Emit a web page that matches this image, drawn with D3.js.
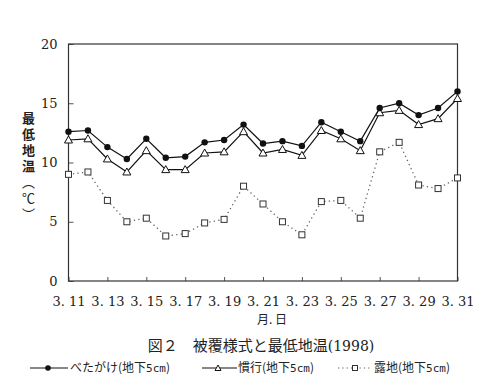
<!DOCTYPE html>
<html>
<head>
<meta charset="utf-8">
<script src="https://cdn.jsdelivr.net/npm/d3@7"></script>
<style>
  body { margin: 0; background: white; }
  .axis text { font-family: "DejaVu Serif", serif; font-size: 13px; fill: #222; }
  .axis line { stroke: #555; }
  .jp { font-family: "Noto Sans CJK JP", sans-serif; fill: #222; }
</style>
</head>
<body>
<div id="chart"></div>
<script>
// days of March, 1998
const days = [11,12,13,14,15,16,17,18,19,20,21,22,23,24,25,26,27,28,29,30,31];
const betagake = [12.6,12.7,11.3,10.3,12.0,10.4,10.5,11.7,11.9,13.2,11.6,11.8,11.4,13.4,12.6,11.8,14.6,15.0,14.0,14.6,16.0];
const kanko    = [11.9,12.0,10.3,9.2,11.0,9.4,9.4,10.8,10.9,12.6,10.8,11.1,10.6,12.7,12.0,11.0,14.2,14.4,13.2,13.7,15.4];
const roji     = [9.0,9.2,6.8,5.0,5.3,3.8,4.0,4.9,5.2,8.0,6.5,5.0,3.9,6.7,6.8,5.3,10.9,11.7,8.1,7.8,8.7];
const xTicks = [11,13,15,17,19,21,23,25,27,29,31];
const yTicks = [0,5,10,15,20];

let width = 482, height = 386;
let svg = d3.select("#chart").append("svg")
  .attr("width", width)
  .attr("height", height);

svg.append("rect").attr("width", "100%").attr("height", "100%").attr("fill", "white");

let plot = { left: 68.5, right: 457.5, top: 44, bottom: 281 };
let x = d3.scaleLinear().domain([11, 31]).range([plot.left, plot.right]);
let y = d3.scaleLinear().domain([0, 20]).range([plot.bottom, plot.top]);

// axes (ticks point inward)
svg.append("g")
  .attr("class", "axis")
  .attr("transform", "translate(0," + plot.bottom + ")")
  .call(d3.axisBottom(x).tickValues(xTicks).tickSize(-4).tickSizeOuter(0).tickPadding(16)
    .tickFormat(d => "3. " + d))
  .call(g => g.select(".domain").remove());

svg.append("g")
  .attr("class", "axis")
  .attr("transform", "translate(" + plot.left + ",0)")
  .call(d3.axisLeft(y).tickValues(yTicks).tickSize(-5).tickSizeOuter(0).tickPadding(11))
  .call(g => g.select(".domain").remove());

// frame
svg.append("rect")
  .attr("x", plot.left).attr("y", plot.top)
  .attr("width", plot.right - plot.left).attr("height", plot.bottom - plot.top)
  .attr("fill", "none").attr("stroke", "#333").attr("stroke-width", 1.2);

// series
let line = d3.line().x((d, i) => x(days[i])).y(d => y(d));

svg.append("path").datum(roji)
  .attr("d", line).attr("fill", "none")
  .attr("stroke", "#666").attr("stroke-width", 1.3).attr("stroke-dasharray", "1.3,3.2");
svg.append("path").datum(kanko)
  .attr("d", line).attr("fill", "none").attr("stroke", "#111").attr("stroke-width", 1.2);
svg.append("path").datum(betagake)
  .attr("d", line).attr("fill", "none").attr("stroke", "#111").attr("stroke-width", 1.2);

const triPath = "M0,-4L4,3L-4,3Z";

svg.selectAll(".sq").data(roji).enter().append("rect")
  .attr("class", "sq")
  .attr("x", (d, i) => x(days[i]) - 3).attr("y", d => y(d) - 3)
  .attr("width", 6).attr("height", 6)
  .attr("fill", "white").attr("stroke", "#333").attr("stroke-width", 1);

svg.selectAll(".tri").data(kanko).enter().append("path")
  .attr("class", "tri")
  .attr("d", triPath)
  .attr("transform", (d, i) => "translate(" + x(days[i]) + "," + y(d) + ")")
  .attr("fill", "white").attr("stroke", "#111").attr("stroke-width", 1);

svg.selectAll(".dot").data(betagake).enter().append("circle")
  .attr("class", "dot")
  .attr("cx", (d, i) => x(days[i])).attr("cy", d => y(d))
  .attr("r", 3.2).attr("fill", "#111");

// y axis title, written vertically
let yt = svg.append("text")
  .attr("class", "jp")
  .attr("x", 28.5).attr("y", 112)
  .style("writing-mode", "vertical-rl")
  .style("font-size", "13px")
  .style("letter-spacing", "3px");
yt.append("tspan").style("font-weight", "bold").text("最低地温");
yt.append("tspan").text("（℃）");

// x axis title
svg.append("text").attr("class", "jp")
  .attr("x", 272).attr("y", 320).attr("dy", "0.35em")
  .attr("text-anchor", "middle").style("font-size", "12px")
  .text("月. 日");

// figure caption
let cap = svg.append("text").attr("class", "jp")
  .attr("x", 261).attr("y", 346).attr("dy", "0.35em")
  .attr("text-anchor", "middle").style("font-size", "15px");
cap.append("tspan").text("図２　被覆様式と最低地温");
cap.append("tspan").style("font-family", "'DejaVu Serif', serif").style("font-size", "14px").text("(1998)");

// legend
const legendItems = [
  { label: "べたがけ", x0: 30, x1: 68, mk: 48, tx: 70, kind: "dot" },
  { label: "慣行", x0: 202, x1: 237, mk: 218, tx: 238, kind: "tri" },
  { label: "露地", x0: 338, x1: 372, mk: 355, tx: 374, kind: "sq" }
];
let ly = 368;
legendItems.forEach(it => {
  let ln = svg.append("line")
    .attr("x1", it.x0).attr("x2", it.x1).attr("y1", ly).attr("y2", ly)
    .attr("stroke", it.kind == "sq" ? "#666" : "#111").attr("stroke-width", 1.1);
  if (it.kind == "sq") ln.attr("stroke-dasharray", "1.3,3");
  if (it.kind == "dot") {
    svg.append("circle").attr("cx", it.mk).attr("cy", ly).attr("r", 2.8).attr("fill", "#111");
  } else if (it.kind == "tri") {
    svg.append("path").attr("d", "M0,-3L3,2.5L-3,2.5Z")
      .attr("transform", "translate(" + it.mk + "," + ly + ")")
      .attr("fill", "white").attr("stroke", "#111");
  } else {
    svg.append("rect").attr("x", it.mk - 2.5).attr("y", ly - 2.5).attr("width", 5).attr("height", 5)
      .attr("fill", "white").attr("stroke", "#333");
  }
  let t = svg.append("text").attr("class", "jp")
    .attr("x", it.tx).attr("y", ly).attr("dy", "0.35em").style("font-size", "12px");
  t.append("tspan").text(it.label + "(地下");
  t.append("tspan").style("font-family", "'DejaVu Sans Mono', monospace").style("font-size", "11px").text("5cm");
  t.append("tspan").text(")");
});
</script>
</body>
</html>
